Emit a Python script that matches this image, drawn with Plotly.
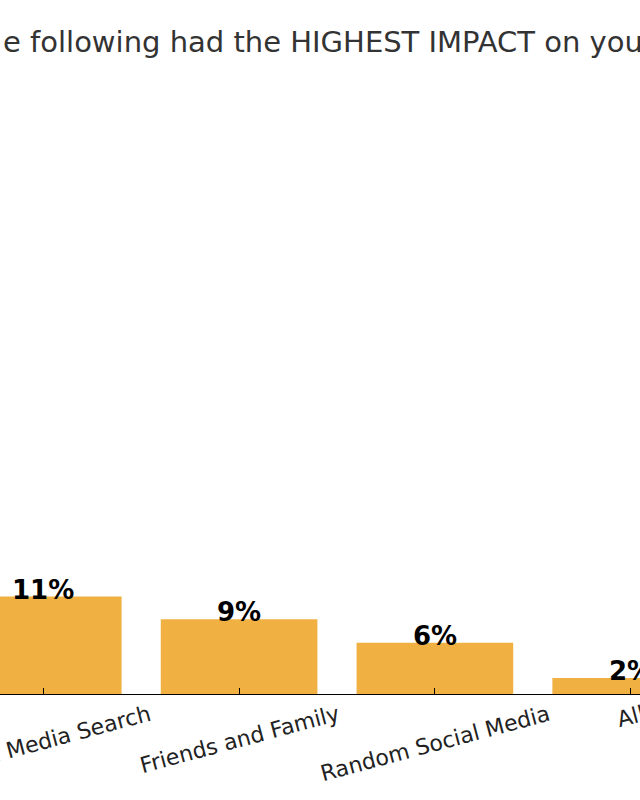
import plotly.graph_objects as go

categories = ["Social Media Search", "Friends and Family", "Random Social Media", "All"]
positions = [0, 1, 2, 3]
values = [11.0, 8.45, 5.78, 1.8]
value_labels = ["11%", "9%", "6%", "2%"]
title_text = "e following had the HIGHEST IMPACT on you"

BAR_COLOR = "#F0B042"
FONT = "DejaVu Sans"

fig = go.Figure()
fig.add_trace(go.Bar(
    x=positions, y=values, width=0.8,
    marker=dict(color=BAR_COLOR, line=dict(width=0)),
    hoverinfo="skip",
))

annotations = []
for xp, v, lab in zip(positions, values, value_labels):
    annotations.append(dict(
        x=xp, y=v, xref="x", yref="y", text=lab, showarrow=False,
        xanchor="center", yanchor="middle", yshift=7,
        font=dict(family=FONT, size=26, color="#000000", weight="bold"),
    ))
for xp, c in zip(positions, categories):
    annotations.append(dict(
        x=xp, y=0, xref="x", yref="paper", text=c, showarrow=False,
        xanchor="center", yanchor="top", yshift=-4, textangle=-15,
        font=dict(family=FONT, size=22, color="#222222"),
    ))
annotations.append(dict(
    x=0, y=1, xref="paper", yref="paper", text=title_text, showarrow=False,
    xanchor="left", yanchor="middle", xshift=1, yshift=38,
    font=dict(family=FONT, size=29, color="#333333"),
))

fig.update_layout(
    width=640, height=800,
    margin=dict(l=0, r=0, t=80, b=106),
    paper_bgcolor="white", plot_bgcolor="white",
    showlegend=False,
    annotations=annotations,
    xaxis=dict(
        range=[-0.2211, 3.0475], showgrid=False, zeroline=False,
        showline=True, linecolor="#000000", linewidth=1,
        ticks="inside", ticklen=6, tickwidth=1, tickcolor="#000000",
        tickvals=positions, showticklabels=False,
    ),
    yaxis=dict(
        range=[0, 69.3], visible=False, showgrid=False, zeroline=False,
    ),
)

fig.write_html(
    "out.html",
    config={"displayModeBar": False, "staticPlot": True},
    post_script="document.body.style.margin='0';document.body.style.overflow='hidden';",
)
